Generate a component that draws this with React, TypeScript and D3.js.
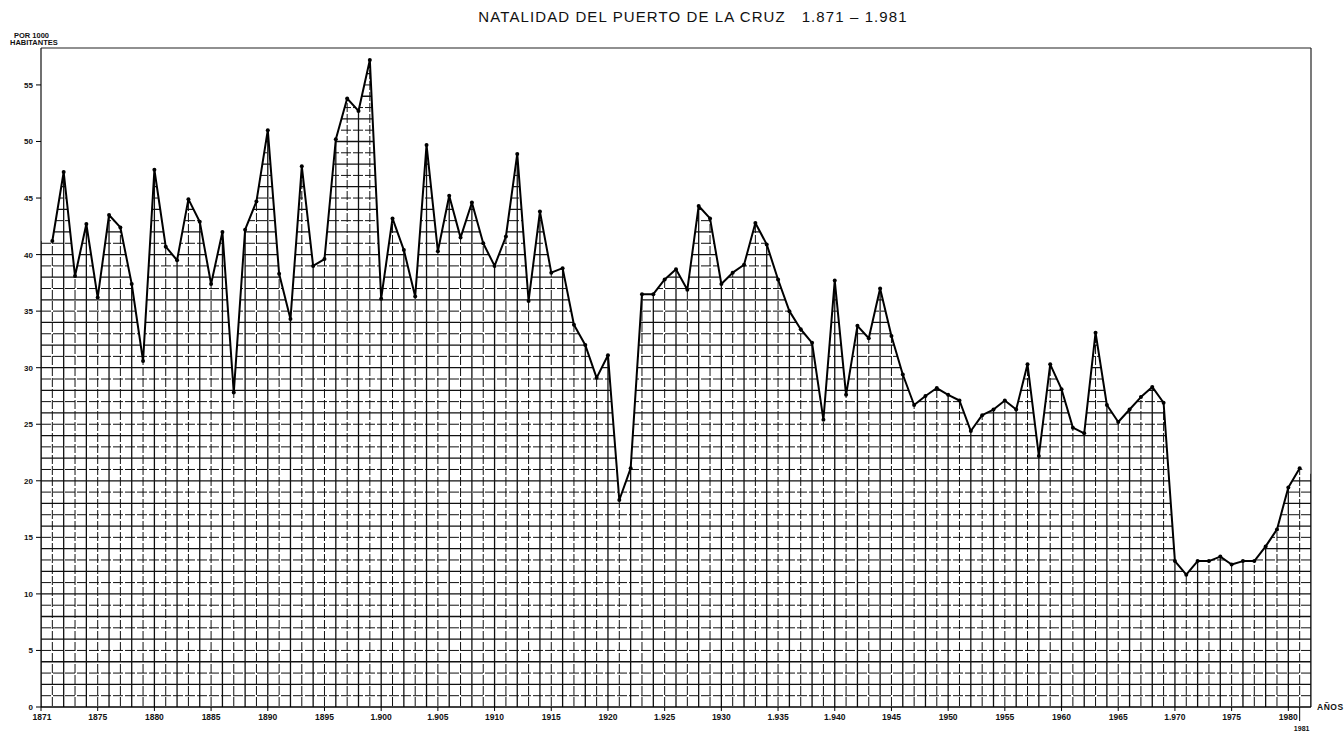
import React from 'react';
import * as d3 from 'd3';

// births per 1000 inhabitants, Puerto de la Cruz, one value per year 1871..1981
const years: number[] = d3.range(1871, 1982);
const births: number[] = [
    41.2, 47.3, 38.1, 42.7, 36.2, 43.5, 42.4, 37.4, 30.6, 47.5,
    40.7, 39.5, 44.9, 42.9, 37.4, 42.0, 27.8, 42.2, 44.7, 51.0,
    38.3, 34.3, 47.8, 39.0, 39.6, 50.2, 53.8, 52.7, 57.2, 36.1,
    43.2, 40.4, 36.3, 49.7, 40.3, 45.2, 41.5, 44.6, 41.0, 39.0,
    41.6, 48.9, 35.9, 43.8, 38.4, 38.8, 33.8, 32.0, 29.1, 31.1,
    18.3, 21.1, 36.5, 36.5, 37.8, 38.7, 36.9, 44.3, 43.2, 37.4,
    38.4, 39.1, 42.8, 40.9, 37.8, 35.0, 33.4, 32.2, 25.4, 37.7,
    27.6, 33.7, 32.6, 37.0, 32.8, 29.4, 26.7, 27.5, 28.2, 27.6,
    27.1, 24.4, 25.8, 26.3, 27.1, 26.3, 30.3, 22.2, 30.3, 28.1,
    24.7, 24.2, 33.1, 26.7, 25.2, 26.3, 27.4, 28.3, 26.9, 12.9,
    11.7, 12.9, 12.9, 13.3, 12.6, 12.9, 12.9, 14.2, 15.7, 19.4,
    21.1,
];

const yTicks: number[] = [0, 5, 10, 15, 20, 25, 30, 35, 40, 45, 50, 55];
// hand lettered year labels; the first one sits on the axis origin
const xTickYears: number[] = [1870, 1875, 1880, 1885, 1890, 1895, 1900, 1905, 1910, 1915, 1920, 1925,
    1930, 1935, 1940, 1945, 1950, 1955, 1960, 1965, 1970, 1975, 1980];
const xTickLabels: string[] = ['1871', '1875', '1880', '1885', '1890', '1895', '1.900', '1.905', '1910', '1915',
    '1920', '1.925', '1930', '1.935', '1.940', '1945', '1950', '1955', '1960', '1965', '1.970', '1975', '1980'];

const W = 1344;
const H = 739;
const left = 41;
const right = 1311;
const top = 48;
const bottom = 707;

export default function App() {
    const x = d3.scaleLinear().domain([1870, 1982]).range([left, right]);
    const y = d3.scaleLinear().domain([0, 58]).range([bottom, 51]);

    const pts = years.map((yr, i) => ({ yr, v: births[i] }));
    // the hatched area runs flat to both frame edges
    const areaPts = [{ yr: 1870, v: births[0] }, ...pts, { yr: 1982, v: births[births.length - 1] - 0.5 }];

    const area = d3.area<{ yr: number; v: number }>()
        .x(d => x(d.yr))
        .y0(y(0))
        .y1(d => y(d.v));
    const line = d3.line<{ yr: number; v: number }>()
        .x(d => x(d.yr))
        .y(d => y(d.v));

    const vYears = d3.range(1870, 1983);
    const hVals = d3.range(1, 58);
    const font = '"Liberation Sans", Arial, sans-serif';

    return (
        <svg width={W} height={H} style={{ position: 'absolute', left: 0, top: 0, background: '#fff' }}>
            <defs>
                <clipPath id="under">
                    <path d={area(areaPts) || ''} />
                </clipPath>
            </defs>

            <text x={693} y={22} textAnchor="middle" fontFamily={font} fontSize={15} letterSpacing={1.1} fill="#111">
                NATALIDAD DEL PUERTO DE LA CRUZ{'\u00a0\u00a0\u00a0'}1.871 – 1.981
            </text>
            <text x={14} y={38} fontFamily={font} fontSize={7.5} fontWeight="bold" fill="#111">POR 1000</text>
            <text x={10} y={45} fontFamily={font} fontSize={7.5} fontWeight="bold" fill="#111">HABITANTES</text>

            {/* frame */}
            <line x1={left} x2={right} y1={top} y2={top} stroke="#222" strokeWidth={1.1} />
            <line x1={left} x2={left} y1={top} y2={bottom} stroke="#111" strokeWidth={1.2} />
            <line x1={right} x2={right} y1={top} y2={bottom} stroke="#222" strokeWidth={1.2} />

            {/* grid only under the curve */}
            <g clipPath="url(#under)">
                {vYears.map(yr => (
                    <line key={'v' + yr} x1={x(yr)} x2={x(yr)} y1={top} y2={bottom}
                        stroke="#111" strokeWidth={yr % 2 === 0 ? 1.3 : 1}
                        strokeDasharray={yr % 2 === 0 ? undefined : '9 2'} />
                ))}
                {hVals.map(v => (
                    <line key={'h' + v} x1={left} x2={right} y1={y(v)} y2={y(v)}
                        stroke="#111" strokeWidth={v % 2 === 0 ? 1.3 : 1}
                        strokeDasharray={v % 2 === 0 ? undefined : '10 2'} />
                ))}
            </g>

            <path d={line(pts) || ''} fill="none" stroke="#000" strokeWidth={2} strokeLinejoin="round" />
            {pts.map(p => (
                <circle key={'c' + p.yr} cx={x(p.yr)} cy={y(p.v)} r={2} fill="#000" />
            ))}

            {/* axes */}
            <line x1={left} x2={right} y1={bottom} y2={bottom} stroke="#000" strokeWidth={1.5} />
            {yTicks.map(t => (
                <g key={'yt' + t}>
                    <line x1={left - 5} x2={left} y1={y(t)} y2={y(t)} stroke="#000" strokeWidth={1} />
                    <text x={left - 8} y={y(t) + 3} textAnchor="end" fontFamily={font} fontSize={8}
                        fontWeight="bold" fill="#111">{t}</text>
                </g>
            ))}
            {xTickYears.map((yr, i) => (
                <g key={'xt' + yr}>
                    <line x1={x(yr)} x2={x(yr)} y1={bottom} y2={bottom + 4} stroke="#000" strokeWidth={1} />
                    <text x={x(yr) + (i === 0 ? 1 : 0)} y={bottom + 13} textAnchor="middle" fontFamily={font}
                        fontSize={8.5} fontWeight="bold" fill="#111">{xTickLabels[i]}</text>
                </g>
            ))}
            <line x1={x(1981)} x2={x(1981)} y1={bottom} y2={bottom + 14} stroke="#000" strokeWidth={1} />
            <text x={x(1981) + 2} y={bottom + 24} textAnchor="middle" fontFamily={font} fontSize={7}
                fontWeight="bold" fill="#111">1981</text>
            <text x={right + 6} y={bottom + 3} fontFamily={font} fontSize={8.5} fontWeight="bold"
                fill="#111" letterSpacing={0.5}>AÑOS</text>
        </svg>
    );
}
